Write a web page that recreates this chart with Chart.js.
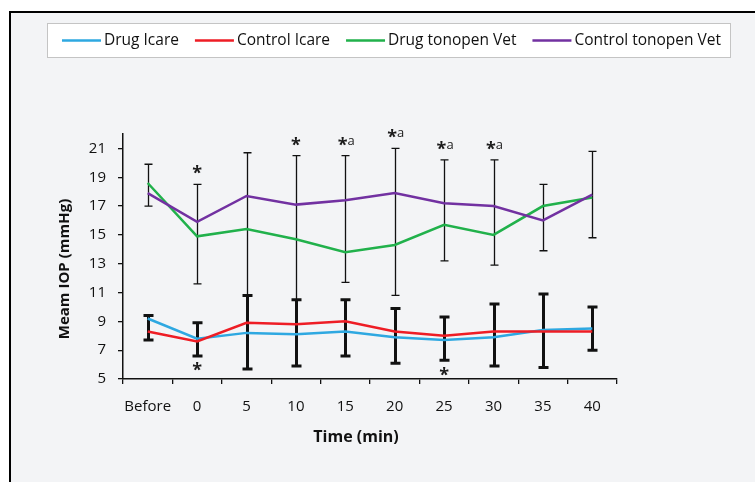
<!DOCTYPE html>
<html><head><meta charset="utf-8">
<script src="https://cdn.jsdelivr.net/npm/chart.js@4"></script>
<style>html,body{margin:0;padding:0;background:#fff}#wrap{width:755px;height:482px;position:relative}</style>
</head><body><div id="wrap"><canvas id="c" width="755" height="482"></canvas></div>
<script>
const categories = ['Before','0','5','10','15','20','25','30','35','40'];
const drugIcare = [9.2,7.8,8.2,8.1,8.3,7.9,7.7,7.9,8.4,8.5];
const controlIcare = [8.3,7.6,8.9,8.8,9.0,8.3,8.0,8.3,8.3,8.3];
const drugTonopen = [18.6,14.9,15.4,14.7,13.8,14.3,15.7,15.0,17.0,17.6];
const controlTonopen = [17.9,15.9,17.7,17.1,17.4,17.9,17.2,17.0,16.0,17.8];
const tonopenErrHigh = [19.9,18.5,20.7,20.5,20.5,21.0,20.2,20.2,18.5,20.8];
const tonopenErrLow = [17.0,11.6,10.8,10.5,11.7,10.8,13.2,12.9,13.9,14.8];
const icareErrHigh = [9.4,8.9,10.8,10.5,10.5,9.9,9.3,10.2,10.9,10.0];
const icareErrLow = [7.7,6.6,5.7,5.9,6.6,6.1,6.3,5.9,5.8,7.0];
const topMarks = ['','*','','*','*a','*a','*a','*a','',''];
const bottomMarks = ['','*','','','','','*','','',''];
const yTicks = [5,7,9,11,13,15,17,19,21];
const seriesNames = ['Drug Icare','Control Icare','Drug tonopen Vet','Control tonopen Vet'];
const xTitle = 'Time (min)';
const yTitle = 'Meam IOP (mmHg)';

const FONT = '"Open Sans", "Noto Sans", sans-serif';
const colors = ['#2ea8e1','#ee1d25','#21b14b','#7231a1'];

const bgPlugin = {
  id: 'bg',
  beforeDraw(chart) {
    const ctx = chart.ctx;
    ctx.save();
    ctx.fillStyle = '#ffffff';
    ctx.fillRect(0, 0, chart.width, chart.height);
    ctx.fillStyle = '#f3f4f6';
    ctx.fillRect(10, 12, chart.width - 10, chart.height - 12);
    ctx.fillStyle = '#000';
    ctx.fillRect(9, 11, chart.width - 9, 2);
    ctx.fillRect(9, 11, 2, chart.height - 11);
    // legend box
    ctx.fillStyle = '#ffffff';
    ctx.fillRect(48, 24, 683, 33);
    ctx.strokeStyle = '#c4c4c4';
    ctx.lineWidth = 1;
    ctx.strokeRect(47.5, 23.5, 683, 34);
    // legend items
    ctx.font = '15.5px ' + FONT;
    ctx.textBaseline = 'middle';
    const lineLen = 39, gap = 3, itemGap = 16;
    const ds = chart.data.datasets;
    let total = 0;
    ds.forEach((d, i) => { total += lineLen + gap + ctx.measureText(d.label).width; if (i < ds.length - 1) total += itemGap; });
    let x = 391.5 - total / 2;
    const y = 40.5;
    ds.forEach(d => {
      ctx.strokeStyle = d.borderColor;
      ctx.lineWidth = 2.5;
      ctx.beginPath(); ctx.moveTo(x, y); ctx.lineTo(x + lineLen, y); ctx.stroke();
      x += lineLen + gap;
      ctx.fillStyle = '#111';
      ctx.fillText(d.label, x, y + 0.5);
      x += ctx.measureText(d.label).width + itemGap;
    });
    ctx.restore();
  }
};

function drawBar(ctx, x, yTop, yBot, lw, cap) {
  ctx.lineWidth = lw;
  ctx.beginPath();
  ctx.moveTo(x, yTop); ctx.lineTo(x, yBot);
  ctx.moveTo(x - cap / 2, yTop); ctx.lineTo(x + cap / 2, yTop);
  ctx.moveTo(x - cap / 2, yBot); ctx.lineTo(x + cap / 2, yBot);
  ctx.stroke();
}

const errPlugin = {
  id: 'errbars',
  beforeDatasetsDraw(chart) {
    const ctx = chart.ctx, xs = chart.scales.x, ys = chart.scales.y;
    ctx.save();
    ctx.strokeStyle = '#111';
    categories.forEach((c, i) => {
      const x = Math.round(xs.getPixelForValue(i)) + 0.5;
      drawBar(ctx, x, ys.getPixelForValue(tonopenErrHigh[i]), ys.getPixelForValue(tonopenErrLow[i]), 1.3, 8);
    });
    categories.forEach((c, i) => {
      const x = Math.round(xs.getPixelForValue(i)) + 0.5;
      drawBar(ctx, x, ys.getPixelForValue(icareErrHigh[i]), ys.getPixelForValue(icareErrLow[i]), 3, 10);
    });
    ctx.restore();
  }
};

function drawMark(ctx, mark, cx, cy) {
  if (!mark) return;
  const starFont = 'bold 18px ' + FONT;
  const aFont = '13px ' + FONT;
  ctx.font = starFont;
  const sm = ctx.measureText('*');
  const sw = sm.width;
  let aw = 0;
  if (mark.length > 1) { ctx.font = aFont; aw = ctx.measureText(mark.slice(1)).width; }
  let x = cx - (sw + aw) / 2 + (mark.length > 1 ? 1 : 0);
  ctx.font = starFont;
  ctx.textBaseline = 'alphabetic';
  ctx.textAlign = 'left';
  const asc = sm.actualBoundingBoxAscent, desc = sm.actualBoundingBoxDescent;
  const base = cy + (asc - desc) / 2;
  ctx.fillText('*', x, base);
  if (mark.length > 1) {
    ctx.font = aFont;
    const am = ctx.measureText(mark.slice(1));
    const ab = cy + (am.actualBoundingBoxAscent - am.actualBoundingBoxDescent) / 2;
    ctx.fillText(mark.slice(1), x + sw, ab);
  }
}

const marksPlugin = {
  id: 'marks',
  afterDatasetsDraw(chart) {
    const ctx = chart.ctx, xs = chart.scales.x, ys = chart.scales.y;
    ctx.save();
    ctx.fillStyle = '#1a1a1a';
    categories.forEach((c, i) => {
      const x = xs.getPixelForValue(i);
      drawMark(ctx, topMarks[i], x, ys.getPixelForValue(tonopenErrHigh[i]) - 14.5);
      drawMark(ctx, bottomMarks[i], x, ys.getPixelForValue(icareErrLow[i]) + 11);
    });
    ctx.restore();
  }
};

const titlePlugin = {
  id: 'titles',
  afterDraw(chart) {
    const ctx = chart.ctx;
    ctx.save();
    ctx.fillStyle = '#111';
    ctx.textAlign = 'center';
    ctx.textBaseline = 'middle';
    ctx.font = 'bold 16px ' + FONT;
    ctx.fillText(xTitle, 356, 437);
    ctx.translate(65, 269);
    ctx.rotate(-Math.PI / 2);
    ctx.font = 'bold 15px ' + FONT;
    ctx.fillText(yTitle, 0, 0);
    ctx.restore();
  }
};

const series = [drugIcare, controlIcare, drugTonopen, controlTonopen];
new Chart(document.getElementById('c'), {
  type: 'line',
  data: {
    labels: categories,
    datasets: series.map((s, i) => ({
      label: seriesNames[i],
      data: s,
      borderColor: colors[i],
      backgroundColor: colors[i],
      borderWidth: 2.5,
      pointRadius: 0,
      tension: 0,
      fill: false,
      order: 4 - i
    }))
  },
  options: {
    responsive: false,
    animation: false,
    devicePixelRatio: 1,
    layout: { padding: { left: 0, right: 138, top: 134, bottom: 0 } },
    plugins: { legend: { display: false }, tooltip: { enabled: false } },
    scales: {
      x: {
        type: 'category',
        offset: true,
        afterFit(scale) { scale.height = 103; },
        grid: { offset: true, drawOnChartArea: false, drawTicks: true, tickLength: 5, color: '#111', lineWidth: 1.3 },
        border: { display: true, color: '#111', width: 1.5 },
        ticks: { font: { family: FONT, size: 15 }, color: '#111', padding: 14, maxRotation: 0, autoSkip: false }
      },
      y: {
        min: 5, max: 22,
        afterFit(scale) { scale.width = 123; },
        afterBuildTicks(scale) { scale.ticks = yTicks.map(v => ({ value: v })); },
        grid: { drawOnChartArea: false, drawTicks: true, tickLength: 5, color: '#111', lineWidth: 1.3 },
        border: { display: true, color: '#111', width: 1.5 },
        ticks: { font: { family: FONT, size: 15 }, color: '#111', padding: 12 }
      }
    }
  },
  plugins: [bgPlugin, errPlugin, marksPlugin, titlePlugin]
});
</script></body></html>
